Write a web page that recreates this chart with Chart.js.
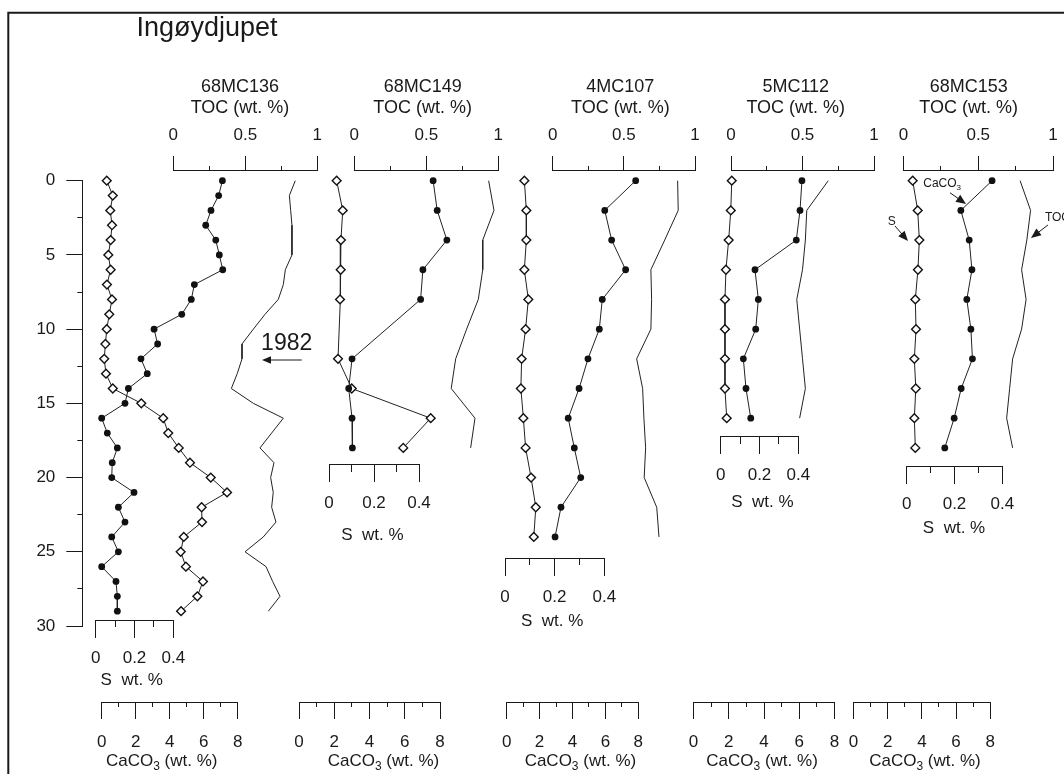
<!DOCTYPE html>
<html>
<head>
<meta charset="utf-8">
<title>Ingøydjupet – TOC, CaCO3 and S down-core profiles</title>
<script src="https://cdn.jsdelivr.net/npm/chart.js@4.4.1/dist/chart.umd.min.js"></script>
<style>
  html, body { margin: 0; padding: 0; background: #ffffff; }
  #box { position: relative; width: 1064px; height: 774px; }
  canvas { display: block; }
</style>
</head>
<body>
<div id="box"><canvas id="profiles" width="1064" height="774"></canvas></div>
<script>
// ---------------------------------------------------------------------------
// Cores, left to right
const coreNames = ['68MC136', '68MC149', '4MC107', '5MC112', '68MC153'];

// Tick values of the axes
const tocTicks = [0, 0.5, 1];
const tocMinorTicks = [0.25, 0.75];
const sTicks = [0, 0.2, 0.4];
const sMinorTicks = [0.1, 0.3];
const caco3Ticks = [0, 2, 4, 6, 8];
const caco3MinorTicks = [1, 3, 5, 7];
const depthTicks = [0, 5, 10, 15, 20, 25, 30];
const depthMinorTicks = [2.5, 7.5, 12.5, 17.5, 22.5, 27.5];

// 68MC136 (depth in cm, S / CaCO3 / TOC in wt. %)
const depth136 = [0, 1, 2, 3, 4, 5, 6, 7, 8, 9, 10, 11, 12, 13, 14, 15, 16, 17, 18, 19, 20, 21, 22, 23, 24, 25, 26, 27, 28, 29];
const s136 = [0.057, 0.088, 0.075, 0.084, 0.077, 0.065, 0.077, 0.058, 0.084, 0.070, 0.057, 0.050, 0.044, 0.053, 0.088,
              0.235, 0.348, 0.374, 0.428, 0.486, 0.593, 0.677, 0.546, 0.548, 0.454, 0.438, 0.465, 0.553, 0.524, 0.440];
const caco3_136 = [7.10, 6.88, 6.43, 6.12, 6.71, 6.92, 7.12, 5.45, 5.27, 4.71, 3.08, 3.29, 2.31, 2.68, 1.57,
                   1.37, 0.00, 0.33, 0.92, 0.62, 0.59, 1.90, 0.98, 1.37, 0.59, 0.98, 0.00, 0.84, 0.92, 0.92];
const toc136 = [0.847, 0.806, 0.815, 0.824, 0.824, 0.824, 0.778, 0.764, 0.729, 0.637, 0.556, 0.477, 0.477, 0.444, 0.403,
                0.556, 0.764, 0.683, 0.602, 0.699, 0.676, 0.694, 0.683, 0.713, 0.625, 0.498, 0.644, 0.690, 0.741, 0.660];

// 68MC149
const depth149 = [0, 2, 4, 6, 8, 12, 14, 16, 18];
const s149 = [0.034, 0.061, 0.053, 0.052, 0.049, 0.040, 0.101, 0.452, 0.330];
const caco3_149 = [7.61, 7.84, 8.39, 7.03, 6.90, 3.01, 2.82, 3.01, 3.03];
const tocDepth149 = [0, 2, 4, 6, 8, 10, 12, 14, 16, 18];
const toc149 = [0.933, 0.970, 0.892, 0.892, 0.861, 0.780, 0.704, 0.673, 0.838, 0.808];

// 4MC107
const depth107 = [0, 2, 4, 6, 8, 10, 12, 14, 16, 18, 20, 22, 24];
const s107 = [0.078, 0.086, 0.086, 0.078, 0.094, 0.083, 0.067, 0.064, 0.074, 0.083, 0.105, 0.124, 0.116];
const caco3_107 = [7.84, 5.96, 6.38, 7.23, 5.81, 5.63, 4.94, 4.40, 3.74, 4.11, 4.50, 3.30, 2.94];
const toc107 = [0.878, 0.882, 0.787, 0.690, 0.695, 0.690, 0.590, 0.632, 0.641, 0.653, 0.643, 0.731, 0.747];

// 5MC112
const depth112 = [0, 2, 4, 6, 8, 10, 12, 14, 16];
const s112 = [0.057, 0.052, 0.041, 0.027, 0.022, 0.022, 0.022, 0.022, 0.031];
const caco3_112 = [6.15, 6.04, 5.83, 3.49, 3.68, 3.53, 2.83, 2.98, 3.25];
const toc112 = [0.68, 0.53, 0.52, 0.50, 0.46, 0.48, 0.50, 0.52, 0.48];

// 68MC153
const depth153 = [0, 2, 4, 6, 8, 10, 12, 14, 16, 18];
const s153 = [0.025, 0.046, 0.053, 0.047, 0.036, 0.039, 0.032, 0.038, 0.032, 0.036];
const caco3_153 = [8.11, 6.28, 6.77, 6.93, 6.63, 6.87, 6.96, 6.30, 5.89, 5.34];
const toc153 = [0.78, 0.85, 0.825, 0.79, 0.82, 0.79, 0.73, 0.71, 0.69, 0.73];

const cores = [
  {sDepth: depth136, s: s136, caco3: caco3_136, tocDepth: depth136, toc: toc136},
  {sDepth: depth149, s: s149, caco3: caco3_149, tocDepth: tocDepth149, toc: toc149},
  {sDepth: depth107, s: s107, caco3: caco3_107, tocDepth: depth107, toc: toc107},
  {sDepth: depth112, s: s112, caco3: caco3_112, tocDepth: depth112, toc: toc112},
  {sDepth: depth153, s: s153, caco3: caco3_153, tocDepth: depth153, toc: toc153}
];

// ---------------------------------------------------------------------------
// Page layout (pixels)
const FONT = "'Liberation Sans', Arial, Helvetica, sans-serif";
const INK = '#1a1a1a';
const DEPTH_TOP = 180.7;      // depth 0 cm
const DEPTH_BOTTOM = 626;     // depth 30 cm
const DEPTH_AXIS_X = 82.3;
const TOC_AXIS_Y = 170;
const CACO3_AXIS_Y = 702.3;

// per panel: pixel spans of the TOC, S and CaCO3 axes, height of the S axis,
// and where the axis titles are centred (in axis units)
const panelLayout = [
  {toc: [173.3, 317.3], s: [95.7, 173.3],  sY: 620,   ca: [101.7, 237.7], head: 0.463, sTitle: 0.186, sTitleDy: 60, caTitle: 3.53},
  {toc: [354.3, 498.3], s: [329, 419],     sY: 465,   ca: [299, 440],     head: 0.475, sTitle: 0.193, sTitleDy: 70, caTitle: 4.79},
  {toc: [552.7, 695],   s: [505, 604.3],   sY: 558.3, ca: [506.7, 638.3], head: 0.475, sTitle: 0.190, sTitleDy: 63, caTitle: 4.48},
  {toc: [731, 874],     s: [720.7, 798.3], sY: 436.7, ca: [693.4, 834.6], head: 0.453, sTitle: 0.215, sTitleDy: 66, caTitle: 3.89},
  {toc: [903.5, 1053],  s: [906.7, 1002.3],sY: 466,   ca: [853.6, 990.2], head: 0.436, sTitle: 0.198, sTitleDy: 62, caTitle: 4.18}
];

// ---------------------------------------------------------------------------
// Scales
const scales = {};
const boxes = {};

function tickList(values) {
  return scale => { scale.ticks = values.map(v => ({value: v})); };
}

function addXAxis(id, range, span, lineY, values, o) {
  scales[id] = {
    type: 'linear', axis: 'x', position: {frameY: lineY},
    min: range[0], max: range[1], bounds: 'data',
    afterBuildTicks: tickList(values),
    border: {display: !!o.border, color: INK, width: 1},
    grid: {display: true, drawOnChartArea: false, drawTicks: true, tickLength: o.tickLength, color: INK, lineWidth: 1},
    ticks: {display: !!o.labels, autoSkip: false, maxRotation: 0, minRotation: 0, padding: o.padding || 0,
            color: INK, font: {family: FONT, size: 17}, callback: v => String(v)}
  };
  boxes[id] = {left: span[0], right: span[1], top: lineY, bottom: lineY};
}

// frame scale: maps page pixels vertically, used to place the horizontal axes
scales.frameY = {type: 'linear', axis: 'y', position: 'left', reverse: true, display: false, min: 0, max: 774, bounds: 'data'};
boxes.frameY = {left: 0, right: 0, top: 0, bottom: 774};

scales.depth = {
  type: 'linear', axis: 'y', position: 'left', reverse: true, min: 0, max: 30, bounds: 'data',
  afterBuildTicks: tickList(depthTicks),
  border: {display: true, color: INK, width: 1},
  grid: {display: true, drawOnChartArea: false, drawTicks: true, tickLength: 16, color: INK, lineWidth: 1},
  ticks: {display: true, autoSkip: false, padding: 11, color: INK, font: {family: FONT, size: 17}, callback: v => String(v)}
};
boxes.depth = {left: 0, right: DEPTH_AXIS_X, top: DEPTH_TOP, bottom: DEPTH_BOTTOM};

scales.depthMinor = {
  type: 'linear', axis: 'y', position: 'left', reverse: true, min: 0, max: 30, bounds: 'data',
  afterBuildTicks: tickList(depthMinorTicks),
  border: {display: false},
  grid: {display: true, drawOnChartArea: false, drawTicks: true, tickLength: 5, color: INK, lineWidth: 1},
  ticks: {display: false}
};
boxes.depthMinor = {left: 0, right: DEPTH_AXIS_X, top: DEPTH_TOP, bottom: DEPTH_BOTTOM};

panelLayout.forEach((p, i) => {
  addXAxis('toc' + i, [0, 1], p.toc, TOC_AXIS_Y, tocTicks, {border: true, labels: true, tickLength: -15, padding: -30});
  addXAxis('tocMinor' + i, [0, 1], p.toc, TOC_AXIS_Y, tocMinorTicks, {tickLength: -4});
  addXAxis('s' + i, [0, 0.4], p.s, p.sY, sTicks, {border: true, labels: true, tickLength: 17, padding: 11.5});
  addXAxis('sMinor' + i, [0, 0.4], p.s, p.sY, sMinorTicks, {tickLength: 7});
  addXAxis('ca' + i, [0, 8], p.ca, CACO3_AXIS_Y, caco3Ticks, {border: true, labels: true, tickLength: 16, padding: 13.8});
  addXAxis('caMinor' + i, [0, 8], p.ca, CACO3_AXIS_Y, caco3MinorTicks, {tickLength: 5});
});

// ---------------------------------------------------------------------------
// Datasets
function points(xs, ys) { return xs.map((x, i) => ({x: x, y: ys[i]})); }

const datasets = [];
cores.forEach((c, i) => {
  datasets.push({
    label: coreNames[i] + ' TOC', data: points(c.toc, c.tocDepth), xAxisID: 'toc' + i, yAxisID: 'depth',
    borderColor: '#222', borderWidth: 1, pointRadius: 0, fill: false, tension: 0, clip: false
  });
  datasets.push({
    label: coreNames[i] + ' CaCO3', data: points(c.caco3, c.sDepth), xAxisID: 'ca' + i, yAxisID: 'depth',
    borderColor: '#222', borderWidth: 1, fill: false, tension: 0, clip: false,
    pointStyle: 'circle', pointRadius: 3.4, pointBackgroundColor: '#111', pointBorderColor: '#111', pointBorderWidth: 0
  });
  datasets.push({
    label: coreNames[i] + ' S', data: points(c.s, c.sDepth), xAxisID: 's' + i, yAxisID: 'depth',
    borderColor: '#222', borderWidth: 1, fill: false, tension: 0, clip: false,
    pointStyle: 'rectRot', pointRadius: 4.4, pointBackgroundColor: '#ffffff', pointBorderColor: '#111', pointBorderWidth: 1.4
  });
});

// ---------------------------------------------------------------------------
// Plugins: place every axis in its own strip, then draw frame, titles and notes
const scalePlacement = {
  id: 'scalePlacement',
  afterLayout(chart) {
    Object.keys(boxes).forEach(id => {
      const scale = chart.scales[id];
      if (!scale) return;
      const b = boxes[id];
      scale.left = b.left; scale.right = b.right;
      scale.top = b.top; scale.bottom = b.bottom;
      scale.width = b.right - b.left; scale.height = b.bottom - b.top;
      scale.configure();
    });
  }
};

// annotations, positioned with a panel's TOC axis (x) and the depth axis (y)
const notes = [
  {panel: 0, text: '1982', size: 23, at: [0.7875, 11.0], align: 'center', arrow: [[0.892, 12.08], [0.616, 12.08]], head: 9},
  {panel: 4, text: 'CaCO', sub: '3', size: 12, at: [0.132, 0.22], align: 'left', arrow: [[0.311, 0.81], [0.418, 1.57]], head: 10},
  {panel: 4, text: 'S', size: 12, at: [-0.079, 2.76], align: 'center', arrow: [[-0.057, 3.05], [0.030, 4.06]], head: 10},
  {panel: 4, text: 'TOC', size: 12, at: [0.946, 2.47], align: 'left', arrow: [[0.967, 2.98], [0.853, 3.86]], head: 10}
];

function drawArrow(ctx, x0, y0, x1, y1, head) {
  const a = Math.atan2(y1 - y0, x1 - x0);
  const c = Math.cos(a), s = Math.sin(a), w = head * 0.42;
  ctx.beginPath();
  ctx.moveTo(x0, y0);
  ctx.lineTo(x1 - c * head * 0.7, y1 - s * head * 0.7);
  ctx.stroke();
  ctx.beginPath();
  ctx.moveTo(x1, y1);
  ctx.lineTo(x1 - c * head + s * w, y1 - s * head - c * w);
  ctx.lineTo(x1 - c * head - s * w, y1 - s * head + c * w);
  ctx.closePath();
  ctx.fill();
}

// "CaCO" + subscript "3" + tail, centred or left-aligned at x
function drawChem(ctx, x, y, size, main, sub, tail, align) {
  const subSize = Math.round(size * 0.68);
  ctx.font = size + 'px ' + FONT;
  const w1 = ctx.measureText(main).width;
  const w3 = tail ? ctx.measureText(tail).width : 0;
  ctx.font = subSize + 'px ' + FONT;
  const w2 = ctx.measureText(sub).width;
  const total = w1 + w2 + w3;
  let x0 = align === 'center' ? x - total / 2 : x;
  ctx.textAlign = 'left';
  ctx.textBaseline = 'middle';
  ctx.font = size + 'px ' + FONT;
  ctx.fillText(main, x0, y);
  ctx.font = subSize + 'px ' + FONT;
  ctx.fillText(sub, x0 + w1, y + size * 0.32);
  if (tail) {
    ctx.font = size + 'px ' + FONT;
    ctx.fillText(tail, x0 + w1 + w2, y);
  }
}

const decorations = {
  id: 'decorations',
  afterDraw(chart) {
    const ctx = chart.ctx;
    const ys = chart.scales.depth;
    ctx.save();
    ctx.fillStyle = INK;
    ctx.strokeStyle = INK;

    // frame
    ctx.lineWidth = 2;
    ctx.beginPath();
    ctx.moveTo(8.3, 774);
    ctx.lineTo(8.3, 12.8);
    ctx.lineTo(1064, 12.8);
    ctx.stroke();

    // site name
    ctx.font = '27px ' + FONT;
    ctx.textAlign = 'left';
    ctx.textBaseline = 'alphabetic';
    ctx.fillText('Ingøydjupet', 136.5, 35.5);

    panelLayout.forEach((p, i) => {
      const toc = chart.scales['toc' + i];
      const s = chart.scales['s' + i];
      const ca = chart.scales['ca' + i];

      // core name and TOC axis title
      ctx.font = '18px ' + FONT;
      ctx.textAlign = 'center';
      ctx.textBaseline = 'middle';
      const hx = toc.getPixelForValue(p.head);
      ctx.fillText(coreNames[i], hx, 87);
      ctx.fillText('TOC (wt. %)', hx, 108.5);

      // S axis title
      ctx.font = '17px ' + FONT;
      ctx.fillText('S  wt. %', s.getPixelForValue(p.sTitle), p.sY + p.sTitleDy);

      // CaCO3 axis title
      drawChem(ctx, ca.getPixelForValue(p.caTitle), 761.7, 17, 'CaCO', '3', ' (wt. %)', 'center');
    });

    // notes with arrows
    ctx.lineWidth = 1;
    notes.forEach(n => {
      const xs = chart.scales['toc' + n.panel];
      const tx = xs.getPixelForValue(n.at[0]);
      const ty = ys.getPixelForValue(n.at[1]);
      if (n.sub) {
        drawChem(ctx, tx, ty, n.size, n.text, n.sub, '', n.align);
      } else {
        ctx.font = n.size + 'px ' + FONT;
        ctx.textAlign = n.align;
        ctx.textBaseline = 'middle';
        ctx.fillText(n.text, tx, ty);
      }
      drawArrow(ctx,
        xs.getPixelForValue(n.arrow[0][0]), ys.getPixelForValue(n.arrow[0][1]),
        xs.getPixelForValue(n.arrow[1][0]), ys.getPixelForValue(n.arrow[1][1]), n.head);
    });
    ctx.restore();
  }
};

new Chart(document.getElementById('profiles'), {
  type: 'line',
  data: {datasets: datasets},
  options: {
    responsive: false,
    maintainAspectRatio: false,
    devicePixelRatio: 1,
    animation: false,
    events: [],
    indexAxis: 'y',
    layout: {padding: 0},
    plugins: {legend: {display: false}, tooltip: {enabled: false}, title: {display: false}},
    scales: scales
  },
  plugins: [scalePlacement, decorations]
});
</script>
</body>
</html>
